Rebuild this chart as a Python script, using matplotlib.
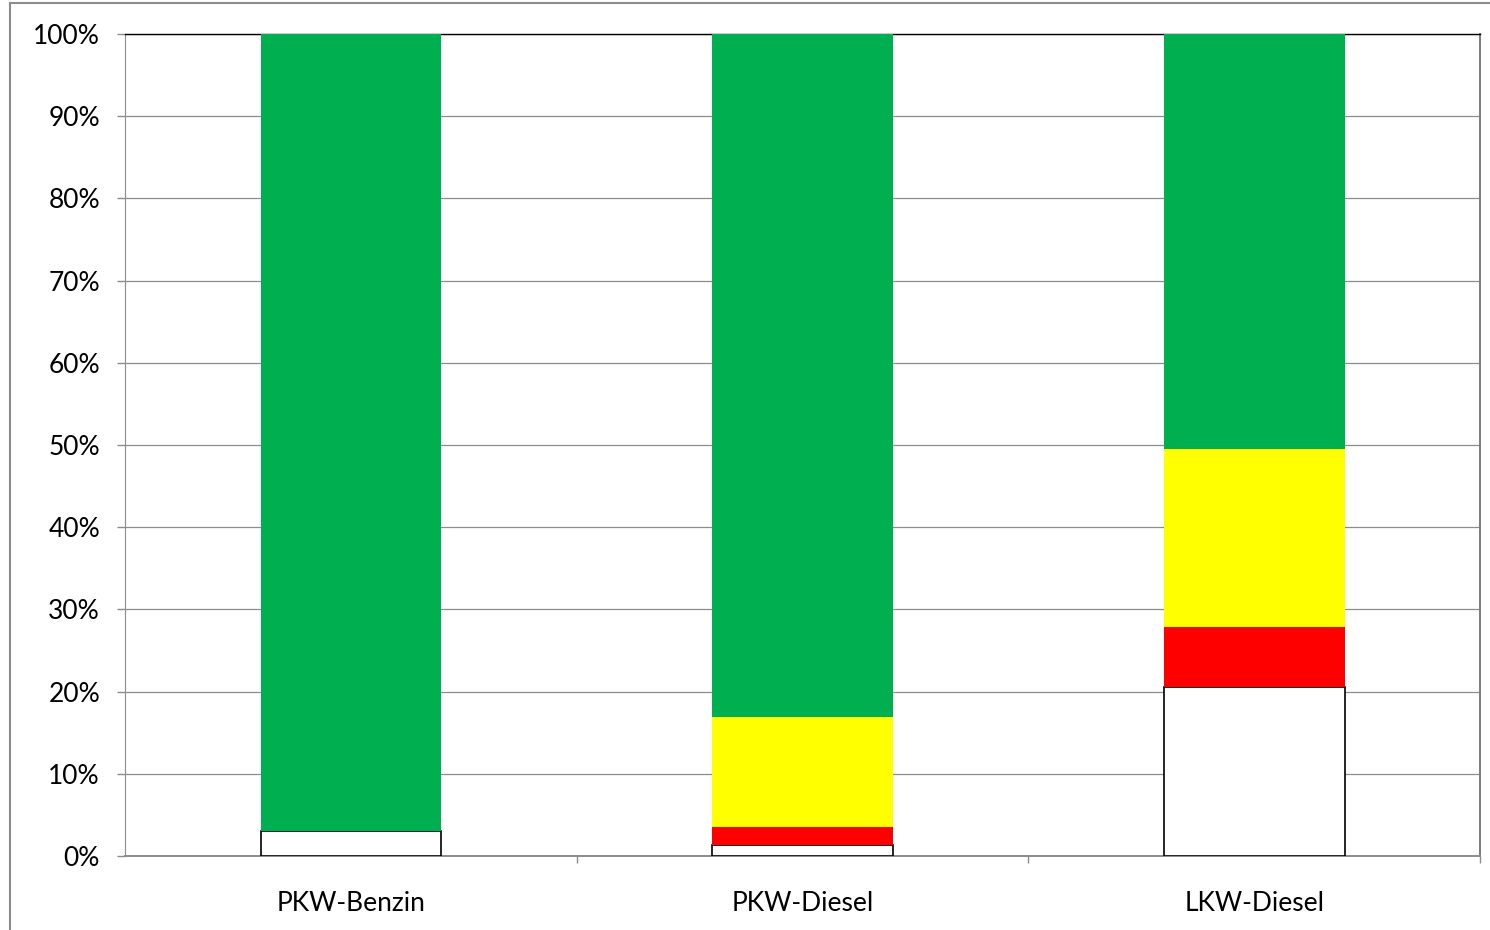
import matplotlib
matplotlib.use("Agg")
import matplotlib.pyplot as plt
from matplotlib.lines import Line2D
import numpy as np

plt.rcParams['font.family'] = ['Lato', 'DejaVu Sans']

categories = ["PKW-Benzin", "PKW-Diesel", "LKW-Diesel"]
white_part = [3.0, 1.3, 20.5]
red_part = [0.0, 2.2, 7.3]
yellow_part = [0.0, 13.4, 21.7]
green_part = [97.0, 83.1, 50.5]
y_ticks = [0, 10, 20, 30, 40, 50, 60, 70, 80, 90, 100]

fig = plt.figure(figsize=(14.9, 9.3), dpi=100)
ax = fig.add_axes([125 / 1490, 1 - 856 / 930, 1355 / 1490, 822 / 930])

x = np.arange(len(categories))
width = 0.4
bottom = np.zeros(len(categories))
segments = [
    (white_part, "white", "black"),
    (red_part, "#FF0000", "none"),
    (yellow_part, "#FFFF00", "none"),
    (green_part, "#00B050", "none"),
]
for vals, color, edge in segments:
    vals = np.array(vals)
    ax.bar(x, vals, width, bottom=bottom, color=color, edgecolor=edge,
           linewidth=1.2 if edge != "none" else 0, zorder=3)
    bottom += vals

ax.set_xlim(-0.5, 2.5)
ax.set_ylim(0, 100)
ax.set_yticks(y_ticks)
ax.set_yticklabels([f"{v}%" for v in y_ticks])
ax.yaxis.grid(True, color="#8c8c8c", linewidth=0.9, zorder=0)
ax.set_axisbelow(True)

ax.set_xticks(x)
ax.set_xticklabels(categories)
ax.set_xticks([0.5, 1.5, 2.5], minor=True)
ax.tick_params(axis="x", which="major", length=0, pad=25, labelsize=19)
ax.tick_params(axis="x", which="minor", length=5, color="#8c8c8c", width=1)
ax.tick_params(axis="y", length=6, color="#8c8c8c", width=1, pad=12, labelsize=19)

ax.spines["top"].set_color("black")
ax.spines["top"].set_linewidth(1.0)
ax.spines["left"].set_color("#8c8c8c")
ax.spines["bottom"].set_color("#8c8c8c")
ax.spines["bottom"].set_linewidth(1.4)
ax.spines["right"].set_color("#7a7a7a")
ax.spines["right"].set_linewidth(1.4)

# outer chart frame
fig.add_artist(Line2D([10 / 1490, 1.0], [1 - 3 / 930, 1 - 3 / 930],
                      transform=fig.transFigure, color="#8c8c8c", linewidth=1.5))
fig.add_artist(Line2D([10 / 1490, 10 / 1490], [0.0, 1 - 3 / 930],
                      transform=fig.transFigure, color="#8c8c8c", linewidth=1.5))

fig.savefig("out.png", dpi=100, facecolor="white")
